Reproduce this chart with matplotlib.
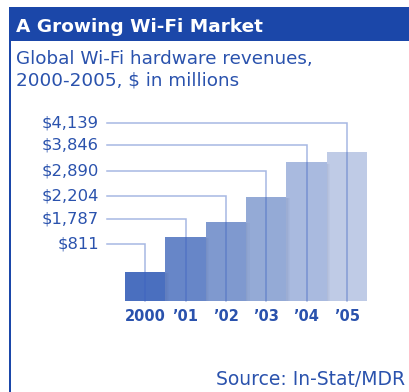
import matplotlib
matplotlib.use("Agg")
import matplotlib.pyplot as plt
from matplotlib.patches import Rectangle

# ---- data ----
years = ["2000", "\u201901", "\u201902", "\u201903", "\u201904", "\u201905"]
revenues = [811, 1787, 2204, 2890, 3846, 4139]
value_labels = ["$811", "$1,787", "$2,204", "$2,890", "$3,846", "$4,139"]
bar_colors = ["#4a6fbf", "#6786c8", "#7f99cf", "#94aad6", "#a9badf", "#bfcbe6"]

title = "A Growing Wi-Fi Market"
subtitle_lines = ["Global Wi-Fi hardware revenues,", "2000-2005, $ in millions"]
source = "Source: In-Stat/MDR"

# ---- layout ----
W, H = 409, 392
DPI = 100
HEADER = "#1b47a9"
TEXT = "#2a52ad"
LINE = "#3a60c0"

fig = plt.figure(figsize=(W / DPI, H / DPI), dpi=DPI)
fig.patch.set_facecolor("white")

def px(x0, y0, w, h):
    """pixel box (from top-left) -> figure fraction [l, b, w, h]"""
    return [x0 / W, 1 - (y0 + h) / H, w / W, h / H]

# header band and left border
fig.patches.append(Rectangle((9 / W, 1 - 41 / H), 1, 34 / H, transform=fig.transFigure,
                             facecolor=HEADER, edgecolor="none", zorder=0))
fig.patches.append(Rectangle((9 / W, 0), 2.2 / W, 1 - 41 / H, transform=fig.transFigure,
                             facecolor=HEADER, edgecolor="none", zorder=0))

fig.text(16 / W, 1 - 32 / H, title, color="white", fontsize=13.3, fontweight="bold",
         ha="left", va="baseline", family="DejaVu Sans")
for i, line in enumerate(subtitle_lines):
    fig.text(16 / W, 1 - (64 + 21.5 * i) / H, line, color=TEXT, fontsize=13.2, ha="left",
             va="baseline", family="DejaVu Sans")
fig.text(405 / W, 1 - 385 / H, source, color=TEXT, fontsize=13.5, ha="right", va="baseline",
         family="DejaVu Sans")

# ---- bar axes ----
ax = fig.add_axes(px(125, 101, 242, 200))
ax.set_xlim(-0.5, len(years) - 0.5)
ax.set_ylim(0, 5550)
for s in ax.spines.values():
    s.set_visible(False)
ax.set_facecolor("none")

xs = list(range(len(years)))
ax.bar(xs, revenues, width=1.0, color=bar_colors, edgecolor="none", zorder=2)

# soft shadow at the right of each bar
for x, v in zip(xs, revenues):
    for k, a in enumerate([0.10, 0.06, 0.03]):
        ax.add_patch(Rectangle((x + 0.5 + k * 0.03, 0), 0.03, v - 40, facecolor="#304070",
                               alpha=a, edgecolor="none", zorder=2.5))

ax.set_xticks(xs)
ax.set_xticklabels(years, fontsize=10.5, fontweight="bold", color=TEXT)
ax.tick_params(axis="x", length=0, pad=5.5)
ax.set_yticks([])

# leader lines and value labels (label rows in axes fraction)
label_rows = [0.285, 0.41, 0.525, 0.65, 0.78, 0.89]
trans = ax.get_xaxis_transform()
line_start = -0.5 - 18 / 40.33
text_x = -0.5 - 26 / 40.33
for x, lab, row in zip(xs, value_labels, label_rows):
    ax.plot([line_start, x, x], [row, row, 0], transform=trans, color=LINE, alpha=0.45,
            lw=1.1, clip_on=False, zorder=3, solid_joinstyle="miter")
    ax.text(text_x, row, lab, transform=trans, ha="right", va="center", fontsize=11.8,
            color=TEXT, clip_on=False)

fig.savefig("out.png", dpi=DPI)
